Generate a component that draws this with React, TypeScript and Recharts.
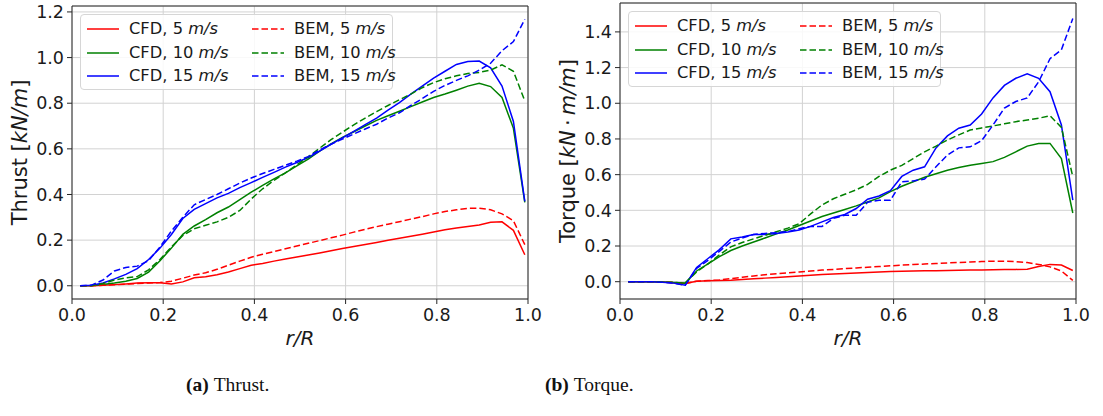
import React from 'react';
import { LineChart, Line, XAxis, YAxis, CartesianGrid, ReferenceLine, Legend, Label } from 'recharts';

// radial stations r/R
const rR = [
  0.018, 0.043, 0.068, 0.093, 0.118, 0.143, 0.168, 0.193, 0.218, 0.243,
  0.268, 0.293, 0.318, 0.343, 0.368, 0.393, 0.418, 0.443, 0.468, 0.493,
  0.518, 0.543, 0.568, 0.593, 0.618, 0.643, 0.668, 0.693, 0.718, 0.743,
  0.768, 0.793, 0.818, 0.843, 0.868, 0.893, 0.918, 0.943, 0.968, 0.993,
];

// Thrust [kN/m]
const thrustCFD5 = [
  0, 0, 0.002, 0.005, 0.008, 0.012, 0.013, 0.013, 0.008, 0.017,
  0.035, 0.04, 0.048, 0.06, 0.075, 0.09, 0.098, 0.108, 0.117, 0.126,
  0.135, 0.144, 0.153, 0.163, 0.172, 0.181, 0.19, 0.199, 0.208, 0.217,
  0.226, 0.236, 0.245, 0.253, 0.26, 0.266, 0.278, 0.28, 0.243, 0.136,
];
const thrustCFD10 = [
  0, 0.001, 0.006, 0.012, 0.02, 0.032, 0.06, 0.11, 0.165, 0.225,
  0.262, 0.29, 0.32, 0.345, 0.378, 0.41, 0.44, 0.468, 0.495, 0.525,
  0.555, 0.59, 0.622, 0.65, 0.675, 0.7, 0.725, 0.745, 0.765, 0.785,
  0.805, 0.825, 0.84, 0.857, 0.875, 0.887, 0.873, 0.825, 0.69, 0.365,
];
const thrustCFD15 = [
  0, 0.002, 0.012, 0.03, 0.05, 0.075, 0.115, 0.165, 0.225, 0.295,
  0.335, 0.36, 0.385, 0.405, 0.43, 0.452, 0.475, 0.497, 0.52, 0.54,
  0.562, 0.59, 0.62, 0.648, 0.677, 0.706, 0.735, 0.77, 0.803, 0.84,
  0.875, 0.91, 0.94, 0.97, 0.983, 0.985, 0.955, 0.875, 0.72, 0.37,
];
const thrustBEM5 = [
  0, 0, 0.002, 0.004, 0.007, 0.01, 0.012, 0.014, 0.02, 0.033,
  0.047, 0.057, 0.072, 0.09, 0.108, 0.125, 0.138, 0.15, 0.162, 0.174,
  0.186, 0.198, 0.21, 0.222, 0.235, 0.247, 0.259, 0.27, 0.281, 0.292,
  0.303, 0.315, 0.325, 0.333, 0.339, 0.34, 0.333, 0.315, 0.285, 0.18,
];
const thrustBEM10 = [
  0, 0, 0.01, 0.025, 0.035, 0.04, 0.07, 0.115, 0.17, 0.22,
  0.25, 0.265, 0.28, 0.3, 0.33, 0.38, 0.425, 0.462, 0.495, 0.53,
  0.565, 0.603, 0.64, 0.673, 0.705, 0.735, 0.763, 0.79, 0.815, 0.84,
  0.868, 0.89, 0.907, 0.92, 0.93, 0.935, 0.945, 0.968, 0.94, 0.81,
];
const thrustBEM15 = [
  0, 0.003, 0.025, 0.065, 0.08, 0.086, 0.11, 0.17, 0.24, 0.3,
  0.355, 0.378, 0.4, 0.425, 0.45, 0.472, 0.492, 0.51, 0.528, 0.546,
  0.566, 0.595, 0.62, 0.643, 0.665, 0.687, 0.708, 0.735, 0.758, 0.79,
  0.82, 0.852, 0.878, 0.9, 0.92, 0.945, 0.975, 1.03, 1.07, 1.168,
];

// Torque [kN·m/m]
const torqueCFD5 = [
  0, 0, 0, -0.002, -0.006, -0.01, 0.003, 0.005, 0.006, 0.008,
  0.012, 0.016, 0.02, 0.024, 0.028, 0.032, 0.036, 0.04, 0.043, 0.046,
  0.049, 0.051, 0.054, 0.057, 0.059, 0.06, 0.061, 0.062, 0.063, 0.064,
  0.065, 0.066, 0.067, 0.068, 0.069, 0.07, 0.085, 0.097, 0.093, 0.063,
];
const torqueCFD10 = [
  0, 0, 0, -0.002, -0.004, -0.008, 0.06, 0.1, 0.14, 0.175,
  0.2, 0.222, 0.245, 0.268, 0.29, 0.315, 0.34, 0.365, 0.385, 0.405,
  0.425, 0.447, 0.47, 0.505, 0.535, 0.56, 0.585, 0.605, 0.625, 0.64,
  0.652, 0.662, 0.673, 0.697, 0.728, 0.76, 0.775, 0.775, 0.69, 0.385,
];
const torqueCFD15 = [
  0, 0, 0, -0.003, -0.008, -0.02, 0.08, 0.13, 0.18, 0.24,
  0.25, 0.265, 0.265, 0.27, 0.278, 0.29, 0.31, 0.335, 0.36, 0.377,
  0.41, 0.462, 0.48, 0.51, 0.59, 0.625, 0.644, 0.75, 0.817, 0.86,
  0.878, 0.94, 1.03, 1.1, 1.14, 1.165, 1.14, 1.065, 0.878, 0.457,
];
const torqueBEM5 = [
  0, 0, 0, -0.002, -0.005, -0.01, 0.003, 0.006, 0.01, 0.017,
  0.025, 0.032, 0.039, 0.045, 0.05, 0.055, 0.06, 0.065, 0.069, 0.073,
  0.077, 0.081, 0.085, 0.089, 0.093, 0.096, 0.099, 0.102, 0.105, 0.108,
  0.11, 0.113, 0.115, 0.115, 0.112, 0.107, 0.097, 0.083, 0.06, 0.007,
];
const torqueBEM10 = [
  0, 0, 0, -0.002, -0.004, -0.008, 0.055, 0.1, 0.15, 0.195,
  0.22, 0.24, 0.26, 0.28, 0.3, 0.325, 0.38, 0.43, 0.465, 0.49,
  0.515, 0.545, 0.59, 0.625, 0.652, 0.69, 0.728, 0.76, 0.794, 0.823,
  0.85, 0.862, 0.873, 0.885, 0.897, 0.906, 0.916, 0.93, 0.865, 0.588,
];
const torqueBEM15 = [
  0, 0, 0, -0.003, -0.008, -0.02, 0.075, 0.12, 0.17, 0.222,
  0.245, 0.265, 0.27, 0.275, 0.28, 0.297, 0.31, 0.31, 0.355, 0.372,
  0.372, 0.445, 0.457, 0.457, 0.56, 0.565, 0.575, 0.644, 0.71, 0.75,
  0.756, 0.79, 0.878, 0.973, 1.01, 1.03, 1.12, 1.25, 1.3, 1.475,
];

const xTicks = [0, 0.2, 0.4, 0.6, 0.8, 1.0];
const thrustTicks = [0, 0.2, 0.4, 0.6, 0.8, 1.0, 1.2];
const torqueTicks = [0, 0.2, 0.4, 0.6, 0.8, 1.0, 1.2, 1.4];

const speeds = [5, 10, 15];
const speedColors = ['#ff0000', '#008000', '#0000ff'];
const methods = ['CFD', 'BEM'];

const thrustSeries = [thrustCFD5, thrustCFD10, thrustCFD15, thrustBEM5, thrustBEM10, thrustBEM15];
const torqueSeries = [torqueCFD5, torqueCFD10, torqueCFD15, torqueBEM5, torqueBEM10, torqueBEM15];

const FONT = "'DejaVu Sans', sans-serif";
const AXIS = '#262626';
const GRID = '#d2d2d2';
const DASH = '6.5 3';

type SeriesDef = { key: string; method: string; speed: number; color: string; dashed: boolean };
const seriesDefs: SeriesDef[] = [];
methods.forEach((m, mi) => {
  speeds.forEach((s, si) => {
    seriesDefs.push({ key: `${m}${s}`, method: m, speed: s, color: speedColors[si], dashed: mi === 1 });
  });
});

function buildRows(values: number[][]) {
  return rR.map((r, i) => {
    const row: Record<string, number> = { r };
    seriesDefs.forEach((d, k) => {
      row[d.key] = values[k][i];
    });
    return row;
  });
}

const thrustRows = buildRows(thrustSeries);
const torqueRows = buildRows(torqueSeries);

const LegendBox = () => {
  const colX = [0, 165];
  return (
    <div
      style={{
        position: 'relative',
        width: 313,
        height: 76,
        boxSizing: 'border-box',
        border: '1px solid #d6d6d6',
        borderRadius: 4,
        background: 'rgba(255,255,255,0.85)',
        fontFamily: FONT,
        fontSize: 16.3,
        color: '#1a1a1a',
      }}
    >
      {seriesDefs.map((d, k) => {
        const col = d.dashed ? 1 : 0;
        const row = k % 3;
        const cy = 14 + row * 23.5;
        return (
          <div key={d.key}>
            <svg
              width={32}
              height={6}
              style={{ position: 'absolute', left: 6 + colX[col], top: cy - 3 }}
            >
              <line
                x1={0}
                y1={3}
                x2={32}
                y2={3}
                stroke={d.color}
                strokeWidth={1.5}
                strokeDasharray={d.dashed ? DASH : undefined}
              />
            </svg>
            <div
              style={{
                position: 'absolute',
                left: 48 + colX[col],
                top: cy - 10,
                height: 20,
                lineHeight: '20px',
                whiteSpace: 'nowrap',
              }}
            >
              {d.method}, {d.speed} <i>m/s</i>
            </div>
          </div>
        );
      })}
    </div>
  );
};

type PanelProps = {
  rows: Record<string, number>[];
  left: number;
  marginTop: number;
  yDomain: [number, number];
  yTicks: number[];
  label: React.ReactNode;
  legendPos: { left: number; top: number };
};

const W = 545;
const H = 350;

const Panel = ({ rows, left, marginTop, yDomain, yTicks, label, legendPos }: PanelProps) => (
  <div style={{ position: 'absolute', left, top: 0 }}>
    <LineChart
      width={W}
      height={H}
      data={rows}
      margin={{ top: marginTop, right: 17, left: 0, bottom: 21 }}
    >
      <CartesianGrid stroke={GRID} strokeWidth={1} />
      <XAxis
        dataKey="r"
        type="number"
        domain={[0, 1]}
        ticks={xTicks}
        allowDataOverflow
        tickFormatter={(v: number) => v.toFixed(1)}
        tick={{ fontSize: 17.5, fill: '#1a1a1a', fontFamily: FONT }}
        tickLine={{ stroke: AXIS }}
        axisLine={{ stroke: AXIS }}
        tickSize={5}
        tickMargin={5}
        height={30}
      >
        <Label
          content={(p: any) => {
            const vb = p.viewBox || {};
            const cx = vb.x + vb.width / 2;
            return (
              <text x={cx} y={345} textAnchor="middle" fontFamily={FONT} fontSize={20} fontStyle="italic" fill="#1a1a1a">
                r/R
              </text>
            );
          }}
        />
      </XAxis>
      <YAxis
        type="number"
        domain={yDomain}
        ticks={yTicks}
        allowDataOverflow
        width={72}
        tickFormatter={(v: number) => v.toFixed(1)}
        tick={{ fontSize: 17.5, fill: '#1a1a1a', fontFamily: FONT }}
        tickLine={{ stroke: AXIS }}
        axisLine={{ stroke: AXIS }}
        tickSize={5}
        tickMargin={3}
      >
        <Label
          content={(p: any) => {
            const vb = p.viewBox || {};
            const cy = vb.y + vb.height / 2;
            return (
              <text
                x={27}
                y={cy}
                transform={`rotate(-90, 27, ${cy})`}
                textAnchor="middle"
                fontFamily={FONT}
                fontSize={21}
                fill="#1a1a1a"
              >
                {label}
              </text>
            );
          }}
        />
      </YAxis>
      <ReferenceLine y={yDomain[1]} stroke={AXIS} strokeWidth={1} />
      <ReferenceLine x={1} stroke={AXIS} strokeWidth={1} />
      {seriesDefs.map((d) => (
        <Line
          key={d.key}
          dataKey={d.key}
          type="linear"
          stroke={d.color}
          strokeWidth={1.5}
          strokeDasharray={d.dashed ? DASH : undefined}
          dot={false}
          activeDot={false}
          isAnimationActive={false}
        />
      ))}
      <Legend
        layout="vertical"
        align="center"
        verticalAlign="middle"
        content={() => <LegendBox />}
        wrapperStyle={{ position: 'absolute', left: legendPos.left, top: legendPos.top, width: 313, height: 76 }}
      />
    </LineChart>
  </div>
);

export default function App() {
  return (
    <div
      style={{
        position: 'absolute',
        left: 0,
        top: 0,
        width: 1103,
        height: 416,
        background: '#fff',
        overflow: 'hidden',
      }}
    >
      <Panel
        rows={thrustRows}
        left={0}
        marginTop={6}
        yDomain={[-0.058, 1.226]}
        yTicks={thrustTicks}
        legendPos={{ left: 80, top: 14 }}
        label={
          <>
            <tspan>Thrust [</tspan>
            <tspan fontStyle="italic">kN/m</tspan>
            <tspan>]</tspan>
          </>
        }
      />
      <Panel
        rows={torqueRows}
        left={548}
        marginTop={3}
        yDomain={[-0.097, 1.562]}
        yTicks={torqueTicks}
        legendPos={{ left: 80, top: 11 }}
        label={
          <>
            <tspan>Torque [</tspan>
            <tspan fontStyle="italic">kN</tspan>
            <tspan>{'\u2009·\u2009'}</tspan>
            <tspan fontStyle="italic">m/m</tspan>
            <tspan>]</tspan>
          </>
        }
      />
      <svg width={1103} height={416} style={{ position: 'absolute', left: 0, top: 0, pointerEvents: 'none' }}>
        <text x={186} y={391} fontFamily="'Liberation Serif', serif" fontSize={19.5} fill="#111">
          <tspan fontWeight="bold">(a)</tspan>
          <tspan>{'\u00a0Thrust.'}</tspan>
        </text>
        <text x={545} y={391} fontFamily="'Liberation Serif', serif" fontSize={19.5} fill="#111">
          <tspan fontWeight="bold">(b)</tspan>
          <tspan>{'\u00a0Torque.'}</tspan>
        </text>
      </svg>
    </div>
  );
}
